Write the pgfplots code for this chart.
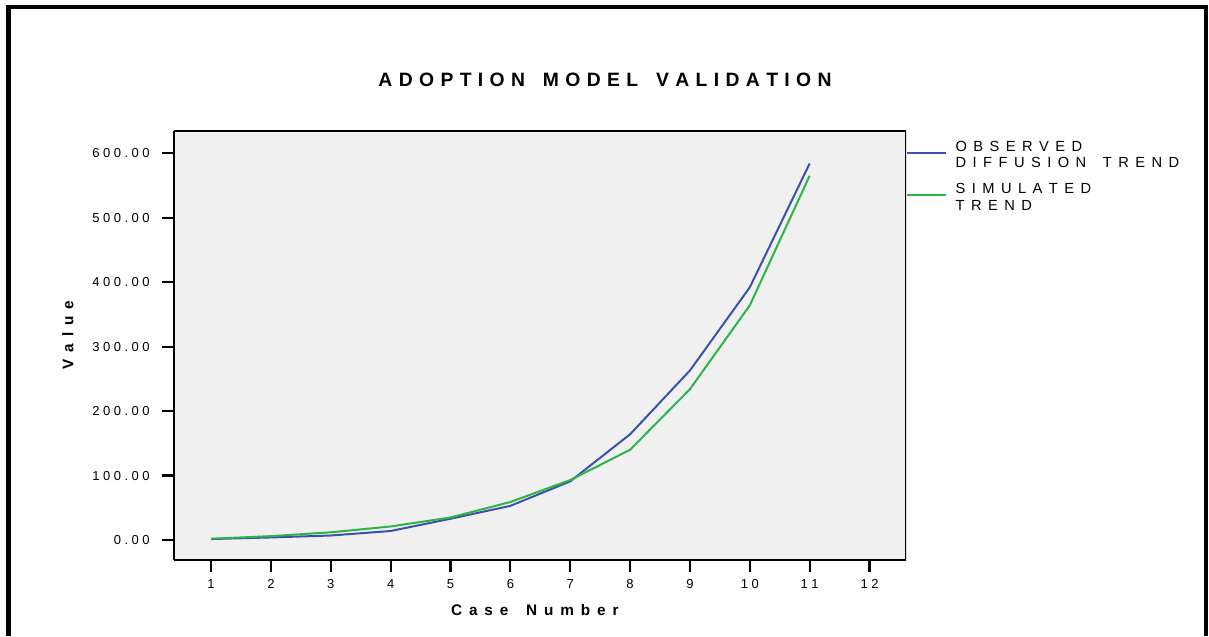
\documentclass[border=0pt]{standalone}
\usepackage{pgfplots}
\pgfplotsset{compat=1.18}
\usepackage{fontspec}
\setmainfont{Liberation Sans}
\makeatletter
\newcommand\spc[2]{\def\sp@k{\kern#1\relax}\sp@first#2\relax}
\def\sp@first#1{#1\sp@rest}
\def\sp@rest#1{\ifx#1\relax\else\sp@k\sp@out#1\expandafter\sp@rest\fi}
\def\sp@out#1{\ifx#1~\hspace*{0.26em}\else#1\fi}
\makeatother
\definecolor{obsblue}{RGB}{60,82,168}
\definecolor{simgreen}{RGB}{45,180,70}
\definecolor{plotbg}{RGB}{240,240,240}
\begin{document}
\begin{tikzpicture}
\path[use as bounding box] (0,0) rectangle (906.75pt,477pt);
\draw[line width=3.4pt] (6.4pt,0) -- (6.4pt,471.75pt) -- (904.5pt,471.75pt) -- (904.5pt,0);
\node[font=\bfseries\fontsize{14.5}{16}\selectfont] at (453.75pt,417pt) {\spc{0.33em}{ADOPTION~MODEL~VALIDATION}};
\begin{axis}[
  at={(130.5pt,57pt)}, anchor=south west,
  scale only axis, width=549pt, height=321.75pt,
  xmin=0.38, xmax=12.61, ymin=-31, ymax=634.5,
  axis background/.style={fill=plotbg},
  axis line style={line width=1.4pt},
  axis x line*=bottom, axis y line*=left,
  tick align=outside, major tick length=9pt,
  tick style={line width=1.6pt, black},
  xtick={1,...,12},
  xticklabels={\spc{.27em}{1},\spc{.27em}{2},\spc{.27em}{3},\spc{.27em}{4},\spc{.27em}{5},\spc{.27em}{6},\spc{.27em}{7},\spc{.27em}{8},\spc{.27em}{9},\spc{.27em}{10},\spc{.27em}{11},\spc{.27em}{12}},
  ytick={0,100,200,300,400,500,600},
  yticklabels={\spc{.27em}{0.00},\spc{.27em}{100.00},\spc{.27em}{200.00},\spc{.27em}{300.00},\spc{.27em}{400.00},\spc{.27em}{500.00},\spc{.27em}{600.00}},
  ticklabel style={font=\fontsize{9.75}{11}\selectfont},
  yticklabel style={xshift=-5.75pt},
  xticklabel style={yshift=-2pt},
  xlabel={\spc{0.45em}{Case~Number}}, ylabel={\spc{0.45em}{Value}},
  xlabel style={font=\bfseries\fontsize{11.5}{14}\selectfont, at={(axis description cs:0.493,-0.117)}, anchor=center},
  ylabel style={font=\bfseries\fontsize{11.5}{14}\selectfont, at={(axis description cs:-0.145,0.524)}, anchor=center},
  legend style={at={(axis description cs:1,0.983)}, anchor=north west, draw=none, fill=none,
    font=\fontsize{11}{12.4}\selectfont, cells={align=left}, row sep=6.25pt, inner sep=0pt},
  legend cell align=left,
  legend image code/.code={\draw[#1] (0pt,2pt) -- (29pt,2pt); \path (33.5pt,2pt);},
]
\draw[line width=1.4pt] (rel axis cs:0,0) rectangle (rel axis cs:1,1);
\addplot[obsblue, line width=1.5pt] coordinates {
(1,1.5) (2,4) (3,7) (4,14) (5,33) (6,53) (7,91) (8,164) (9,263) (10,392) (11,584)};
\addlegendentry{\spc{0.44em}{OBSERVED}\\\spc{0.44em}{DIFFUSION~TREND}}
\addplot[simgreen, line width=1.5pt] coordinates {
(1,2) (2,6) (3,12) (4,21) (5,35) (6,59) (7,93) (8,140) (9,234) (10,364) (11,565)};
\addlegendentry{\spc{0.44em}{SIMULATED}\\\spc{0.44em}{TREND}}
\end{axis}
\end{tikzpicture}
\end{document}
